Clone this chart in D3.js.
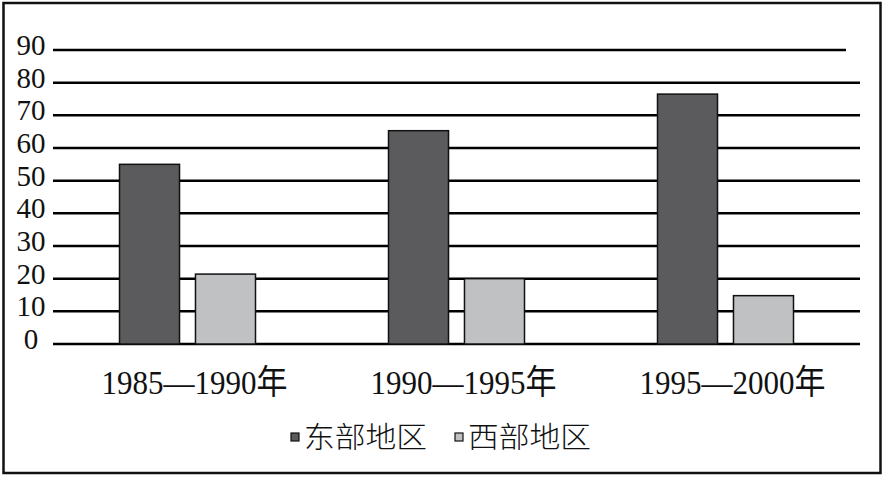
<!DOCTYPE html>
<html>
<head>
<meta charset="utf-8">
<script src="https://cdn.jsdelivr.net/npm/d3@7"></script>
<style>
  html, body { margin: 0; padding: 0; background: #fff; }
  svg { display: block; }
</style>
</head>
<body>
<svg id="chart" width="886" height="479"></svg>
<script>
const categories = ["1985\u20141990年", "1990\u20141995年", "1995\u20142000年"];
const seriesNames = ["东部地区", "西部地区"];
const eastValues = [55, 65.3, 76.5];
const westValues = [21.4, 20, 14.8];
const yTicks = [0, 10, 20, 30, 40, 50, 60, 70, 80, 90];
const colors = ["#5b5b5d", "#c0c1c3"];

const svg = d3.select("#chart");
const serif = "'Liberation Serif', 'Times New Roman', 'Noto Sans CJK SC', serif";

// frame
svg.append("rect").attr("x", 3.5).attr("y", 3).attr("width", 877).attr("height", 470)
  .attr("fill", "#fff").attr("stroke", "#111").attr("stroke-width", 2.5);

const plotL = 53, plotR = 860;
const y = d3.scaleLinear().domain([0, 90]).range([344, 50]);
const x0 = d3.scaleBand().domain(categories).range([plotL, plotR]).paddingInner(0).paddingOuter(0);
const groupW = 136;
const x1 = d3.scaleBand().domain(seriesNames).range([0, groupW]).paddingInner(0.21);

// gridlines
svg.append("g").selectAll("line").data(yTicks).join("line")
  .attr("x1", plotL).attr("x2", d => d === 90 ? 846 : plotR)
  .attr("y1", d => y(d)).attr("y2", d => y(d))
  .attr("stroke", "#000").attr("stroke-width", 2.5);

// tick labels
svg.append("g").selectAll("text").data(yTicks).join("text")
  .attr("x", 31).attr("y", d => y(d) - 5)
  .attr("text-anchor", "middle").attr("dominant-baseline", "central")
  .attr("font-family", serif).attr("font-size", 29)
  .attr("fill", "#111").text(d => d);

// bars
const groups = svg.append("g").selectAll("g").data(categories).join("g")
  .attr("transform", c => `translate(${x0(c) + (x0.bandwidth() - groupW) / 2},0)`);
groups.selectAll("rect").data((c, i) => [
    {s: seriesNames[0], v: eastValues[i], k: 0},
    {s: seriesNames[1], v: westValues[i], k: 1}])
  .join("rect")
  .attr("x", d => x1(d.s)).attr("width", x1.bandwidth())
  .attr("y", d => y(d.v)).attr("height", d => y(0) - y(d.v))
  .attr("fill", d => colors[d.k]).attr("stroke", "#111").attr("stroke-width", 1.5);

// category labels
svg.append("g").selectAll("text").data(categories).join("text")
  .attr("x", c => x0(c) + x0.bandwidth() / 2 + 7).attr("y", 394)
  .attr("text-anchor", "middle")
  .attr("font-family", serif).attr("font-size", 34)
  .attr("textLength", 186).attr("lengthAdjust", "spacingAndGlyphs")
  .attr("fill", "#111").text(c => c);

// legend
const legendItems = [{name: seriesNames[0], x: 291, c: colors[0]}, {name: seriesNames[1], x: 455, c: colors[1]}];
const lg = svg.append("g").selectAll("g").data(legendItems).join("g");
lg.append("rect").attr("x", d => d.x).attr("y", 433).attr("width", 8).attr("height", 8)
  .attr("fill", d => d.c).attr("stroke", "#111").attr("stroke-width", 1.2);
lg.append("text").attr("x", d => d.x + 13).attr("y", 448)
  .attr("font-family", "'Noto Sans CJK SC', sans-serif").attr("font-size", 29)
  .attr("font-weight", 300)
  .attr("textLength", 123).attr("lengthAdjust", "spacingAndGlyphs")
  .attr("fill", "#111").text(d => d.name);
</script>
</body>
</html>
